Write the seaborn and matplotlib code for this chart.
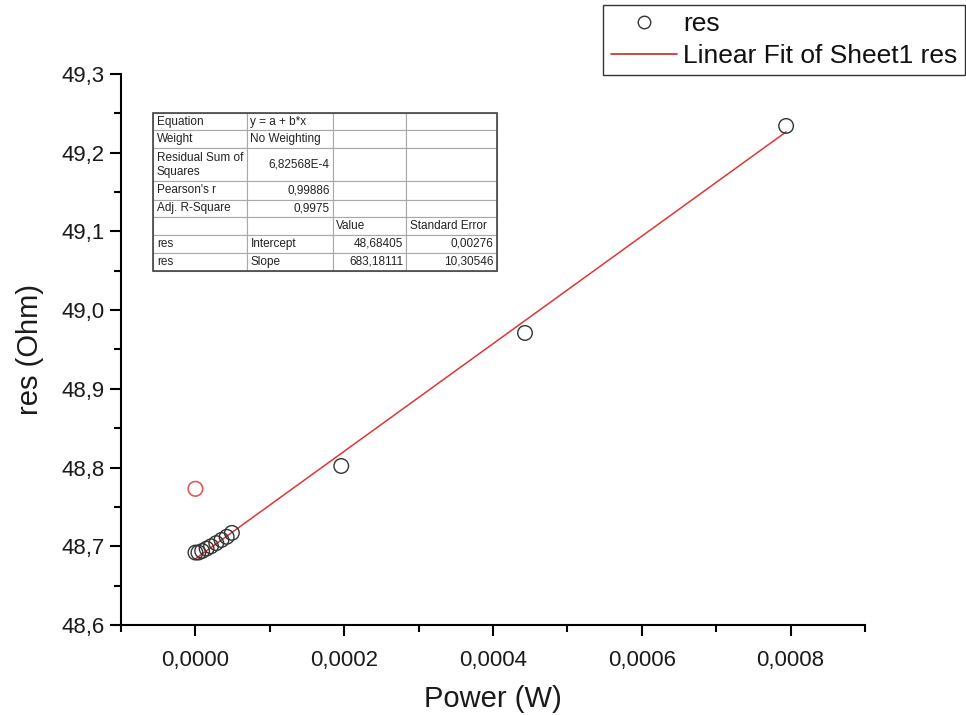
import numpy as np
import pandas as pd
import seaborn as sns
import matplotlib
matplotlib.use("Agg")
import matplotlib.pyplot as plt
from matplotlib.ticker import FuncFormatter, MultipleLocator
from matplotlib.lines import Line2D
from matplotlib.patches import Rectangle

# ---- data ----
power = [0.0, 0.000004, 0.000009, 0.000015, 0.000021, 0.000028, 0.000035,
         0.000042, 0.000049, 0.000196, 0.000443, 0.000794]
res = [48.692, 48.692, 48.694, 48.697, 48.700, 48.704, 48.708,
       48.712, 48.717, 48.802, 48.971, 49.234]
masked_power = [0.0]
masked_res = [48.773]
fit_intercept = 48.68405
fit_slope = 683.18111

table_rows = [
    ["Equation", "y = a + b*x", "", ""],
    ["Weight", "No Weighting", "", ""],
    ["Residual Sum of\nSquares", "6,82568E-4", "", ""],
    ["Pearson's r", "0,99886", "", ""],
    ["Adj. R-Square", "0,9975", "", ""],
    ["", "", "Value", "Standard Error"],
    ["res", "Intercept", "48,68405", "0,00276"],
    ["res", "Slope", "683,18111", "10,30546"],
]

sns.set_theme(style="white")
plt.rcParams['font.family'] = ['Liberation Sans', 'DejaVu Sans']

fig = plt.figure(figsize=(9.66, 7.15), dpi=100)
ax = fig.add_axes([0.1253, 0.1259, 0.7701, 0.7706])

df = pd.DataFrame({"power": power, "res": res})
sns.scatterplot(data=df, x="power", y="res", ax=ax, s=110, marker="o",
                facecolors="none", edgecolor="#333333", linewidth=1.0, zorder=3)
dfm = pd.DataFrame({"power": masked_power, "res": masked_res})
sns.scatterplot(data=dfm, x="power", y="res", ax=ax, s=110, marker="o",
                facecolors="none", edgecolor="#e05a5a", linewidth=1.2, zorder=3)

xfit = np.array([min(power), max(power)])
dff = pd.DataFrame({"power": xfit, "res": fit_intercept + fit_slope * xfit})
sns.lineplot(data=dff, x="power", y="res", ax=ax, color="#e03535", linewidth=1.1, zorder=2)

ax.set_xlim(-0.0001, 0.0009)
ax.set_ylim(48.6, 49.3)
ax.xaxis.set_major_locator(MultipleLocator(0.0002))
ax.xaxis.set_minor_locator(MultipleLocator(0.0001))
ax.yaxis.set_major_locator(MultipleLocator(0.1))
ax.yaxis.set_minor_locator(MultipleLocator(0.05))
ax.xaxis.set_major_formatter(FuncFormatter(lambda v, p: f"{v:.4f}".replace('.', ',').replace('-0,0000', '0,0000')))
ax.yaxis.set_major_formatter(FuncFormatter(lambda v, p: f"{v:.1f}".replace('.', ',')))

for s in ["top", "right"]:
    ax.spines[s].set_visible(False)
for s in ["left", "bottom"]:
    ax.spines[s].set_color("black")
    ax.spines[s].set_linewidth(1.5)

ax.tick_params(axis="both", which="major", direction="out", length=8, width=1.5,
               color="black", labelsize=16, labelcolor="#1a1a1a",
               bottom=True, left=True)
ax.tick_params(axis="x", which="major", pad=10)
ax.tick_params(axis="y", which="major", pad=4)
ax.tick_params(axis="both", which="minor", direction="out", length=5, width=1.5,
               color="black", bottom=True, left=True)

ax.set_xlabel("Power (W)", fontsize=21, color="#1a1a1a", labelpad=10)
ax.set_ylabel("res (Ohm)", fontsize=21, color="#1a1a1a", labelpad=12)

handles = [
    Line2D([], [], marker="o", linestyle="none", markerfacecolor="none",
           markeredgecolor="#333333", markersize=9, markeredgewidth=1.0),
    Line2D([], [], color="#c82828", linewidth=1.2),
]
leg = fig.legend(handles, ["res", "Linear Fit of Sheet1 res"],
                 loc="upper right", bbox_to_anchor=(0.999, 0.993),
                 fontsize=19, frameon=True, fancybox=False, framealpha=1,
                 edgecolor="#333333", handlelength=2.5, handletextpad=0.25,
                 borderpad=0.28, labelspacing=0.28, borderaxespad=0)
for t in leg.get_texts():
    t.set_color("#111111")
leg.get_frame().set_linewidth(1.0)

# ---- fit table ----
tax = fig.add_axes([0.1584, 0.621, 0.3561, 0.221])
tax.axis("off")
tbl = tax.table(cellText=table_rows, bbox=[0, 0, 1, 1], cellLoc="left")
tbl.auto_set_font_size(False)
row_h = [17, 18, 33, 18, 17, 18, 18, 18]
col_w = [94, 86, 73, 91]
right_cells = {(2, 1), (3, 1), (4, 1), (6, 2), (6, 3), (7, 2), (7, 3)}
for (r, c), cell in tbl.get_celld().items():
    cell.set_height(row_h[r])
    cell.set_width(col_w[c])
    cell.set_edgecolor("#a8a8a8")
    cell.set_linewidth(0.8)
    cell.set_facecolor("white")
    t = cell.get_text()
    t.set_fontsize(8.5)
    t.set_color("#222222")
    cell.PAD = 0.04
    if (r, c) in right_cells:
        cell._loc = "right"
        t.set_horizontalalignment("right")
tax.add_patch(Rectangle((0, 0), 1, 1, transform=tax.transAxes, fill=False,
                        edgecolor="#444444", linewidth=1.2, zorder=5, clip_on=False))

fig.savefig("out.png", dpi=100)
